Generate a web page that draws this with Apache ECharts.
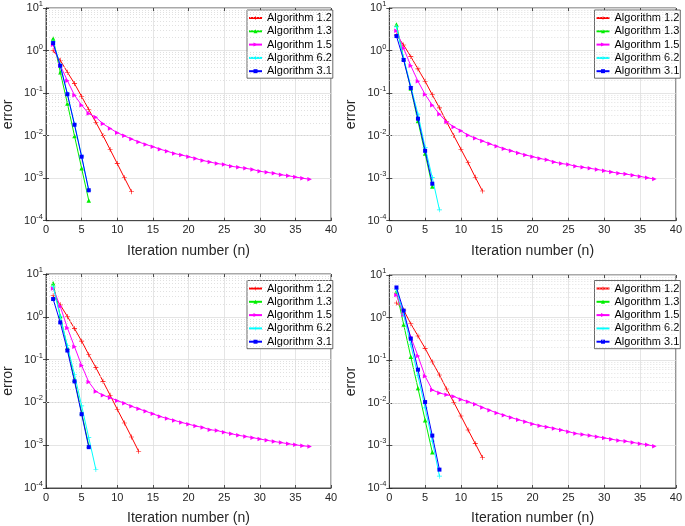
<!DOCTYPE html>
<html><head><meta charset="utf-8">
<script src="https://cdn.jsdelivr.net/npm/echarts@6/dist/echarts.min.js"></script>
<style>html,body{margin:0;padding:0;background:#fff}#c{width:685px;height:526px}</style>
</head><body><div id="c"></div>
<script>
// ---- data (error vs. iteration number n = 1, 2, ...) ----
const names = ['Algorithm 1.2','Algorithm 1.3','Algorithm 1.5','Algorithm 6.2','Algorithm 3.1'];
const xTicks = [0,5,10,15,20,25,30,35,40];
const yTickExps = [-4,-3,-2,-1,0,1];

const p1_a12 = [1.0,0.59,0.31,0.167,0.083,0.041,0.0206,0.01,0.0047,0.0022,0.00102,0.00048];
const p1_a13 = [1.93,0.31,0.057,0.0098,0.0017,0.0003];
const p1_a15 = [1.37,0.45,0.196,0.089,0.052,0.033,0.027,0.019,0.0148,0.0117,0.0099,0.0083,0.0071,0.0062,0.0055,0.0048,0.0043,0.0038,0.0035,0.0032,0.0029,0.0026,0.0024,0.0022,0.0021,0.0019,0.0018,0.0017,0.0016,0.00145,0.00137,0.0013,0.0012,0.00114,0.00106,0.001,0.00094];
const p1_a62 = [1.6,0.46,0.096,0.0185,0.0033,0.00052];
const p1_a31 = [1.5,0.44,0.094,0.018,0.0032,0.00052];

const p2_a12 = [2.3,1.35,0.72,0.37,0.19,0.091,0.045,0.021,0.01,0.0048,0.0023,0.00105,0.0005];
const p2_a13 = [4.1,0.64,0.128,0.022,0.0038,0.00064];
const p2_a15 = [2.9,1.13,0.44,0.19,0.093,0.052,0.032,0.021,0.016,0.013,0.0102,0.0087,0.0075,0.0064,0.0056,0.0049,0.0044,0.0039,0.0035,0.0032,0.0029,0.0027,0.0024,0.0022,0.0021,0.0019,0.0018,0.0017,0.0016,0.0015,0.0014,0.0013,0.00125,0.00117,0.0011,0.00102,0.00095];
const p2_a62 = [3.6,0.66,0.145,0.032,0.0053,0.00103,0.00018];
const p2_a31 = [2.19,0.6,0.132,0.025,0.0044,0.00074];

const p3_a12 = [3.1,1.9,1.02,0.53,0.27,0.13,0.065,0.031,0.0147,0.0069,0.0033,0.00155,0.00072];
const p3_a13 = [6.1,1.05,0.19,0.034,0.0058,0.00098];
const p3_a15 = [4.6,1.75,0.55,0.2,0.073,0.03,0.018,0.0147,0.0129,0.011,0.0096,0.0081,0.0071,0.0062,0.0054,0.0047,0.0042,0.0038,0.0034,0.0031,0.0028,0.0026,0.0023,0.0022,0.002,0.00185,0.0017,0.0016,0.0015,0.0014,0.0013,0.00122,0.00115,0.00108,0.00102,0.00097,0.00093];
const p3_a62 = [5.1,1.0,0.21,0.045,0.0083,0.0015,0.00027];
const p3_a31 = [2.6,0.74,0.163,0.031,0.0053,0.0009];

const p4_a12 = [2.2,1.5,0.72,0.37,0.19,0.091,0.045,0.021,0.0103,0.0049,0.0023,0.0011,0.00052];
const p4_a13 = [4.1,0.69,0.12,0.022,0.0039,0.00069];
const p4_a15 = [3.4,1.17,0.35,0.126,0.042,0.02,0.017,0.0154,0.0141,0.012,0.0106,0.0092,0.0078,0.0067,0.0058,0.0051,0.0045,0.004,0.0036,0.0032,0.0029,0.0027,0.0025,0.0023,0.0021,0.0019,0.0018,0.0017,0.0016,0.0015,0.0014,0.0013,0.00125,0.00117,0.0011,0.00103,0.00096];
const p4_a62 = [4.5,1.2,0.23,0.043,0.0076,0.00126,0.00019];
const p4_a31 = [5.1,1.46,0.32,0.06,0.0104,0.0017,0.00027];

const panels = [
  [p1_a12,p1_a13,p1_a15,p1_a62,p1_a31],
  [p2_a12,p2_a13,p2_a15,p2_a62,p2_a31],
  [p3_a12,p3_a13,p3_a15,p3_a62,p3_a31],
  [p4_a12,p4_a13,p4_a15,p4_a62,p4_a31]
];

// ---- styling ----
const FONT = 'Liberation Sans, Arial, sans-serif';
const TXT = '#262626';
const colors = ['#ff0000','#00ee00','#ff00ff','#00ffff','#0000ff'];
const plus = 'path://M4.4,0h1.2v10h-1.2z M0,4.4h10v1.2h-10z';
const symbols = [plus,'triangle','path://M0,0 L10,5 L0,10 Z',plus,'rect'];
const symSizes = [5,4.5,4.5,5,4];

const grids = [
  {left:42.7, top:6, width:288.3, height:214.7},
  {left:389.3, top:6, width:289.4, height:214.7},
  {left:42.7, top:274, width:288.3, height:215.3},
  {left:389.3, top:275, width:289.4, height:215}
];
const legendPos = [
  {left:247, top:10},
  {left:594.5, top:10},
  {left:247, top:280.5},
  {left:594.5, top:280.5}
];

const minorVals = [];
for (let e=-4;e<1;e++) for (let m=2;m<=9;m++) minorVals.push(m*Math.pow(10,e));

const option = {
  animation:false,
  backgroundColor:'#fff',
  textStyle:{fontFamily:FONT},
  grid:[], xAxis:[], yAxis:[], legend:[], series:[]
};

grids.forEach((g,i)=>{
  option.grid.push(Object.assign({show:true, borderColor:TXT, borderWidth:0.8, backgroundColor:'#fff'}, g));
  const xi = option.xAxis.length;
  option.xAxis.push({
    type:'value', gridIndex:i, min:0, max:40, interval:5,
    name:'Iteration number (n)', nameLocation:'middle', nameGap:23,
    nameTextStyle:{fontSize:14, color:TXT, fontFamily:FONT},
    axisLine:{show:true, lineStyle:{color:TXT, width:0.8}},
    axisTick:{show:true, inside:true, length:3, lineStyle:{color:TXT, width:0.8}},
    axisLabel:{fontSize:11, color:TXT, margin:4, fontFamily:FONT,
      formatter:v=> xTicks.indexOf(v)>=0 ? String(v) : ''},
    splitLine:{show:true, lineStyle:{color:'#dedede', width:0.8}}
  });
  option.xAxis.push({
    type:'value', gridIndex:i, min:0, max:40, interval:5, position:'top',
    axisLine:{show:false}, axisLabel:{show:false}, splitLine:{show:false},
    axisTick:{show:true, inside:true, length:3, lineStyle:{color:TXT, width:0.8}}
  });
  const yi = option.yAxis.length;
  option.yAxis.push({
    type:'log', logBase:10, gridIndex:i, min:1e-4, max:10,
    name:'error', nameLocation:'middle', nameGap:31,
    nameTextStyle:{fontSize:14, color:TXT, fontFamily:FONT},
    axisLine:{show:true, lineStyle:{color:TXT, width:0.8}},
    axisTick:{show:true, inside:true, length:3, lineStyle:{color:TXT, width:0.8}},
    minorTick:{show:false}, minorSplitLine:{show:false},
    axisLabel:{color:TXT, margin:3, fontFamily:FONT,
      formatter:v=>{
        const e = Math.round(Math.log10(v));
        return yTickExps.indexOf(e)>=0 ? '{b|10}{s|'+e+'}' : '';
      },
      rich:{
        b:{fontSize:11, color:TXT, fontFamily:FONT},
        s:{fontSize:7.5, color:TXT, fontFamily:FONT, padding:[0,0,8,0]}
      }
    },
    splitLine:{show:true, lineStyle:{color:'#dedede', width:0.8}}
  });
  option.yAxis.push({
    type:'log', logBase:10, gridIndex:i, min:1e-4, max:10, position:'right',
    axisLine:{show:false}, axisLabel:{show:false}, splitLine:{show:false},
    axisTick:{show:true, inside:true, length:3, lineStyle:{color:TXT, width:0.8}}
  });
  // minor grid (2..9 x 10^k)
  option.series.push({
    type:'line', xAxisIndex:xi, yAxisIndex:yi, data:[], silent:true, z:1,
    markLine:{silent:true, symbol:'none', label:{show:false}, animation:false,
      lineStyle:{type:[1,2], color:'#d4d4d4', width:0.7},
      data:minorVals.map(v=>({yAxis:v}))}
  });
  panels[i].forEach((arr,k)=>{
    option.series.push({
      name:names[k], type:'line', xAxisIndex:xi, yAxisIndex:yi, z:3+k,
      data:arr.map((v,j)=>[j+1,v]),
      symbol:symbols[k], symbolSize:symSizes[k], showSymbol:true,
      lineStyle:{color:colors[k], width:1.0},
      itemStyle:{color:colors[k]},
      emphasis:{disabled:true}
    });
  });
  option.legend.push(Object.assign({
    orient:'vertical', data:names, backgroundColor:'#fff', borderColor:'#444', borderWidth:0.8,
    padding:[2,1,1,1], itemGap:1.3, itemWidth:13, itemHeight:5,
    textStyle:{fontSize:11, color:'#000', fontFamily:FONT, lineHeight:12},
    selectedMode:false
  }, legendPos[i]));
});

const chart = echarts.init(document.getElementById('c'), null, {renderer:'canvas'});
chart.setOption(option);
</script>
</body></html>
